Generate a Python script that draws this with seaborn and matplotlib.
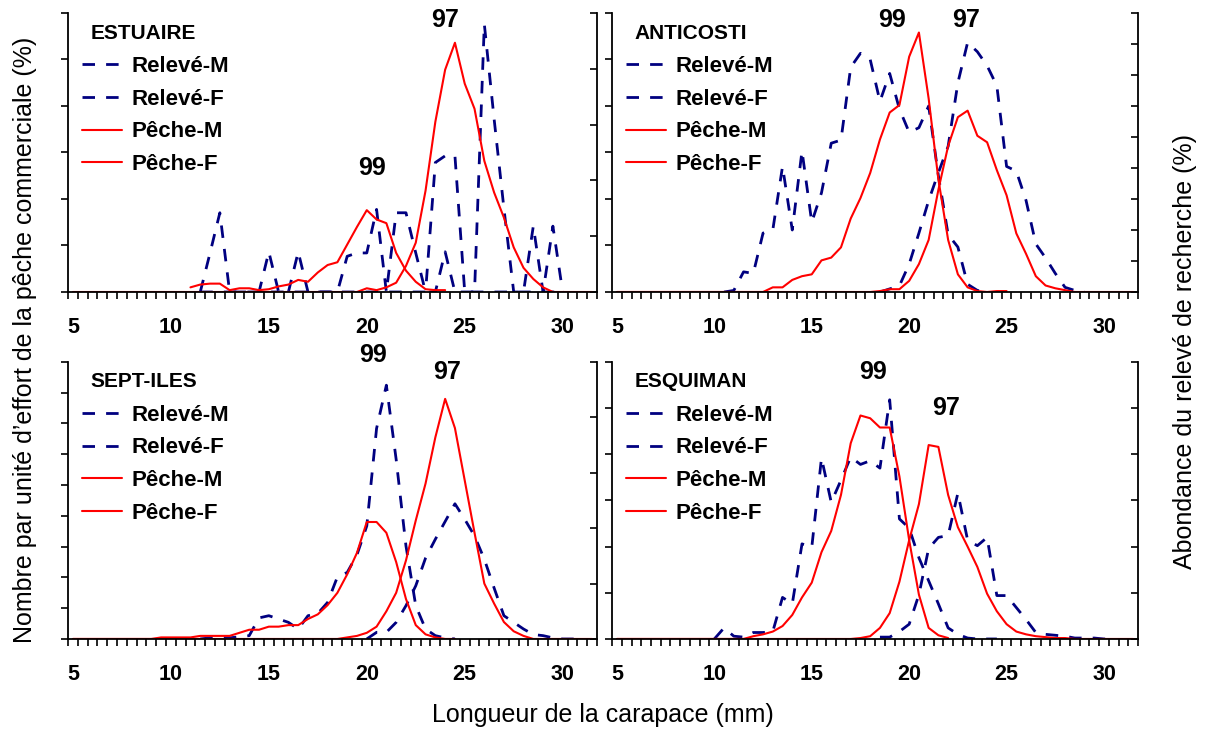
import numpy as np
import pandas as pd
import matplotlib
matplotlib.use('Agg')
import matplotlib.pyplot as plt
import matplotlib.transforms as mtransforms
from matplotlib.lines import Line2D
import seaborn as sns

sns.set_style('ticks')
plt.rcParams['font.family'] = ['Liberation Sans', 'DejaVu Sans']
plt.rcParams['lines.dashed_pattern'] = [4.5, 4.0]
for key in ['text.color', 'axes.labelcolor', 'xtick.color', 'ytick.color', 'axes.edgecolor']:
    plt.rcParams[key] = 'black'

NAVY = '#000080'
RED  = '#ff0000'

# ── data: (first length in mm, values every 0.5 mm) ──────────────────────────
# Pêche = left axis, Relevé = right axis. M = small (99), F = large (97)

# ESTUAIRE
est_peche_m  = (11.0, [0.5, 0.8, 0.9, 0.9, 0.2, 0.4, 0.4, 0.2, 0.3, 0.6, 0.8, 1.3, 1.1, 2.1,
                       2.9, 3.2, 5.1, 7.0, 8.8, 7.8, 7.4, 4.2, 2.3, 1.1, 0.3, 0.2, 0.2])
est_peche_f  = (5.0, [0] * 30 +
                     [0.4, 0.2, 0.5, 1.0, 2.8, 5.3, 10.9, 18.3, 23.9, 26.8, 22.4, 19.7, 14.1,
                      10.7, 8.0, 4.8, 2.6, 1.4, 0.5, 0, 0, 0, 0, 0])
est_releve_m = (11.5, [0, 3.5, 7.1, 0, 0, 0, 0, 3.6, 0, 0, 3.6, 0, 0, 0, 0, 3.2, 3.5, 3.5, 7.4,
                       0, 7.1, 7.1, 3.5, 0, 0, 3.6, 0, 0, 0, 24.0, 15.5, 7.5, 0, 0, 5.9, 0,
                       5.9, 0])
est_releve_f = (11.5, [0] * 24 + [11.6, 12.2, 12.2] + [0] * 11)

# ANTICOSTI
ant_peche_m  = (5.0, [0] * 16 +
                     [0.5, 0.5, 1.3, 1.7, 1.9, 3.4, 3.7, 4.8, 7.9, 10.1, 12.8, 16.4, 19.3,
                      20.1, 25.3, 27.9, 20.8, 12.1, 5.6, 1.9, 0.5, 0.1, 0, 0.1, 0.1])
ant_peche_f  = (5.0, [0] * 27 +
                     [0.1, 0.3, 0.3, 1.2, 3.0, 5.6, 11.0, 15.7, 18.8, 19.5, 16.8, 16.1, 13.1,
                      10.4, 6.3, 4.1, 1.7, 0.7, 0.4, 0.2, 0, 0, 0, 0, 0, 0, 0])
ant_releve_m = (10.5, [0, 0.1, 1.3, 1.2, 3.8, 4.0, 8.1, 4.0, 9.1, 4.5, 6.4, 9.6, 9.8, 14.5,
                       15.4, 15.0, 12.3, 14.1, 11.8, 10.3, 10.6, 12.0, 7.5, 3.7, 2.9, 0.5,
                       0.1, 0])
ant_releve_f = (18.5, [0, 0.2, 0.4, 1.8, 3.8, 5.9, 7.7, 9.4, 13.5, 16.1, 15.5, 14.6, 13.3,
                       8.1, 7.8, 5.9, 3.1, 2.2, 1.2, 0.3, 0.1, 0])

# SEPT-ILES
sep_peche_m  = (5.0, [0] * 9 +
                     [0.1, 0.1, 0.1, 0.1, 0.2, 0.2, 0.2, 0.2, 0.4, 0.6, 0.6, 0.8, 0.8, 0.9,
                      0.9, 1.3, 1.6, 2.2, 3.0, 4.2, 5.6, 7.6, 7.6, 6.9, 5.0, 2.6, 0.9, 0.3,
                      0.1, 0, 0])
sep_peche_f  = (5.0, [0] * 27 +
                     [0.0, 0.1, 0.2, 0.4, 0.8, 1.8, 3.0, 5.1, 7.7, 10.1, 13.1, 15.6, 13.7,
                      10.3, 6.9, 3.6, 2.3, 1.1, 0.5, 0.2, 0.0, 0, 0, 0, 0, 0, 0])
sep_releve_m = (11.5, [0, 0.1, 0.1, 0.1, 0.2, 0.3, 1.9, 2.1, 1.8, 1.5, 0.9, 2.1, 2.3, 3.3,
                       5.6, 6.0, 7.6, 10.2, 19.0, 22.9, 16.2, 8.4, 3.0, 0.9, 0.3, 0.1, 0])
sep_releve_f = (20.0, [0, 0.6, 0.6, 1.5, 3.0, 4.8, 7.3, 9.0, 10.6, 12.2, 10.8, 9.3, 7.2, 4.6,
                       2.1, 1.5, 0.9, 0.4, 0.3, 0.1, 0, 0, 0])

# ESQUIMAN
esq_peche_m  = (5.0, [0] * 14 +
                     [0.3, 0.5, 0.8, 1.4, 2.6, 4.5, 6.1, 9.4, 11.7, 15.6, 21.2, 24.2, 23.9,
                      22.9, 22.9, 17.6, 10.7, 4.8, 1.2, 0.4, 0.1])
esq_peche_f  = (5.0, [0] * 25 +
                     [0.1, 0.3, 1.2, 2.8, 6.2, 10.7, 14.6, 21.0, 20.8, 15.6, 12.1, 10.0, 7.8,
                      4.9, 3.0, 1.6, 0.8, 0.5, 0.3, 0.2, 0.1, 0.1, 0, 0, 0, 0, 0, 0, 0])
esq_releve_m = (10.0, [0, 1.2, 0.3, 0.2, 0.7, 0.7, 0.8, 4.5, 3.8, 10.3, 9.9, 19.6, 14.8,
                       17.2, 19.7, 18.9, 19.3, 18.5, 25.9, 13.0, 12.0, 8.8, 6.3, 3.8, 1.2,
                       0.5, 0.1, 0, 0, 0])
esq_releve_f = (18.5, [0.2, 0.2, 0.8, 1.6, 4.8, 9.8, 11.0, 11.2, 15.8, 10.7, 10.1, 11.0,
                       4.7, 4.7, 3.4, 2.1, 0.7, 0.5, 0.4, 0.3, 0.1, 0.1, 0.1, 0, 0])

legend_labels = ['Relevé-M', 'Relevé-F', 'Pêche-M', 'Pêche-F']
xtick_labels  = [5, 10, 15, 20, 25, 30]

# name, (left max, step), (right max, step), series, "99"/"97" label spots (mm, axes frac)
panels = [
    dict(name='ESTUAIRE',  left=(30, 5), right=(25, 5),
         peche=(est_peche_m, est_peche_f), releve=(est_releve_m, est_releve_f),
         tags=[('99', 20.25, 0.445), ('97', 24.0, 0.975)]),
    dict(name='ANTICOSTI', left=(30, 5), right=(18, 2),
         peche=(ant_peche_m, ant_peche_f), releve=(ant_releve_m, ant_releve_f),
         tags=[('99', 19.1, 0.975), ('97', 22.9, 0.975)]),
    dict(name='SEPT-ILES', left=(18, 2), right=(25, 5),
         peche=(sep_peche_m, sep_peche_f), releve=(sep_releve_m, sep_releve_f),
         tags=[('99', 20.3, 1.025), ('97', 24.1, 0.962)]),
    dict(name='ESQUIMAN',  left=(30, 5), right=(30, 5),
         peche=(esq_peche_m, esq_peche_f), releve=(esq_releve_m, esq_releve_f),
         tags=[('99', 18.15, 0.962), ('97', 21.9, 0.835)]),
]

rects = [
    [0.0564, 0.600, 0.4386, 0.3822],
    [0.5075, 0.600, 0.4362, 0.3822],
    [0.0564, 0.1247, 0.4386, 0.3795],
    [0.5075, 0.1247, 0.4362, 0.3795],
]


def series_frame(s):
    start, vals = s
    return pd.DataFrame({'mm': start + 0.5 * np.arange(len(vals)), 'val': vals})


fig = plt.figure(figsize=(12.06, 7.30), dpi=100)

for p, rect in zip(panels, rects):
    ax = fig.add_axes(rect)
    ax2 = ax.twinx()
    # red (left axis) drawn over blue (right axis)
    ax.set_zorder(ax2.get_zorder() + 1)
    ax.patch.set_visible(False)

    for s in p['releve']:
        sns.lineplot(data=series_frame(s), x='mm', y='val', ax=ax2, color=NAVY,
                     lw=2.0, linestyle='--', legend=False, estimator=None)
    for s in p['peche']:
        sns.lineplot(data=series_frame(s), x='mm', y='val', ax=ax, color=RED,
                     lw=1.5, legend=False, estimator=None)

    lmax, lstep = p['left']
    rmax, rstep = p['right']
    ax.set_ylim(0, lmax)
    ax2.set_ylim(0, rmax)
    ax.set_xlim(4.75, 31.75)
    ax.set_yticks(np.arange(0, lmax + 0.01, lstep))
    ax2.set_yticks(np.arange(0, rmax + 0.01, rstep))
    ax.set_yticklabels([])
    ax2.set_yticklabels([])
    ax.set_xticks(xtick_labels)
    ax.set_xticklabels([str(v) for v in xtick_labels], fontsize=15.5, fontweight='bold')
    ax.set_xticks(np.arange(4.75, 31.76, 0.5), minor=True)
    ax.set_xlabel('')
    ax.set_ylabel('')
    ax2.set_ylabel('')

    ax.tick_params(axis='x', which='major', length=0, pad=18)
    ax.tick_params(axis='x', which='minor', length=5, width=1.2, direction='out')
    ax.tick_params(axis='y', which='major', length=5, width=1.2, direction='out')
    ax2.tick_params(axis='y', which='major', length=5, width=1.2, direction='in')

    ax.spines['top'].set_visible(False)
    ax.spines['right'].set_visible(False)
    for side in ['top', 'left', 'bottom']:
        ax2.spines[side].set_visible(False)
    for sp in [ax.spines['left'], ax.spines['bottom'], ax2.spines['right']]:
        sp.set_linewidth(1.3)
        sp.set_color('black')

    ax.text(0.042, 0.928, p['name'], transform=ax.transAxes, fontsize=15,
            fontweight='bold', ha='left', va='center')

    handles = [Line2D([], [], color=NAVY, lw=2.0, linestyle='--'),
               Line2D([], [], color=NAVY, lw=2.0, linestyle='--'),
               Line2D([], [], color=RED, lw=1.5),
               Line2D([], [], color=RED, lw=1.5)]
    ax.legend(handles, legend_labels, loc='upper left', bbox_to_anchor=(0.027, 0.845),
              frameon=False, borderpad=0, borderaxespad=0, handlelength=1.8,
              handletextpad=0.42, labelspacing=0.52,
              prop={'size': 16, 'weight': 'bold'})

    trans = mtransforms.blended_transform_factory(ax.transData, ax.transAxes)
    for txt, xm, yf in p['tags']:
        ax.text(xm, yf, txt, transform=trans, fontsize=18, fontweight='bold',
                ha='center', va='center', clip_on=False)

fig.text(0.5, 0.02, 'Longueur de la carapace (mm)', fontsize=18, ha='center', va='center')
fig.text(0.021, 0.534, "Nombre par unité d\u2019effort de la pêche commerciale (%)",
         fontsize=18, rotation=90, ha='center', va='center')
fig.text(0.983, 0.518, 'Abondance du relevé de recherche (%)', fontsize=18, rotation=90,
         ha='center', va='center')

plt.savefig('out.png', dpi=100)
